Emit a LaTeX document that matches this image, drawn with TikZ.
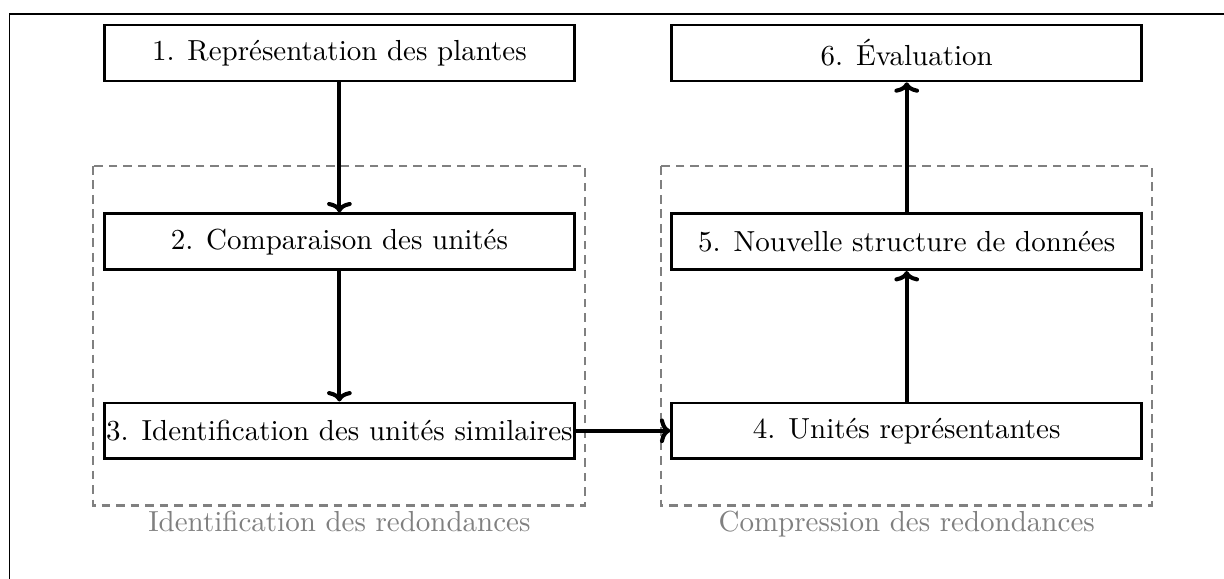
\documentclass[tikz,border=0pt]{standalone}
\usepackage{fontspec}
\usetikzlibrary{arrows.meta}
\begin{document}
\begin{tikzpicture}[x=0.3448pt, y=-0.3448pt,
  stepbox/.style={draw, line width=0.9pt, minimum width=162.1pt, minimum height=19.3pt,
    inner sep=0.5pt, font=\fontsize{10}{12}\selectfont},
  flow/.style={line width=1.4pt, -{To[length=3.6pt,width=8.5pt]}},
  group/.style={draw=gray, line width=0.8pt, dash pattern=on 3pt off 2pt},
  grouplabel/.style={text=gray, anchor=base, font=\fontsize{10}{12}\selectfont}]
  \useasboundingbox (0,0) rectangle (1224,579);

  % outer frame (top and left edges)
  \draw[line width=0.5pt] (9.3,579) -- (9.3,14) -- (1224,14);

  % groups
  \draw[group] (93,166) rectangle (585,505.5);
  \draw[group] (660.7,166) rectangle (1152.3,505.5);
  \node[grouplabel] (gl1) at (339.4,532) {Identification des redondances};
  \node[grouplabel] (gl2) at (906.7,532) {Compression des redondances};

  % steps
  \node[stepbox] (s1) at (339.4,53) {1. Représentation des plantes};
  \node[stepbox] (s2) at (339.4,241.7) {2. Comparaison des unités};
  \node[stepbox] (s3) at (339.4,430.8) {3. Identification des unités similaires};
  \node[stepbox] (s4) at (906.7,430.8) {4. Unités représentantes};
  \node[stepbox] (s5) at (906.7,241.7) {5. Nouvelle structure de données};
  \node[stepbox] (s6) at (906.7,53) {6. Évaluation};

  % connectors
  \draw[flow] (s1) -- (s2);
  \draw[flow] (s2) -- (s3);
  \draw[flow] (s3) -- (s4);
  \draw[flow] (s4) -- (s5);
  \draw[flow] (s5) -- (s6);
\end{tikzpicture}
\end{document}
